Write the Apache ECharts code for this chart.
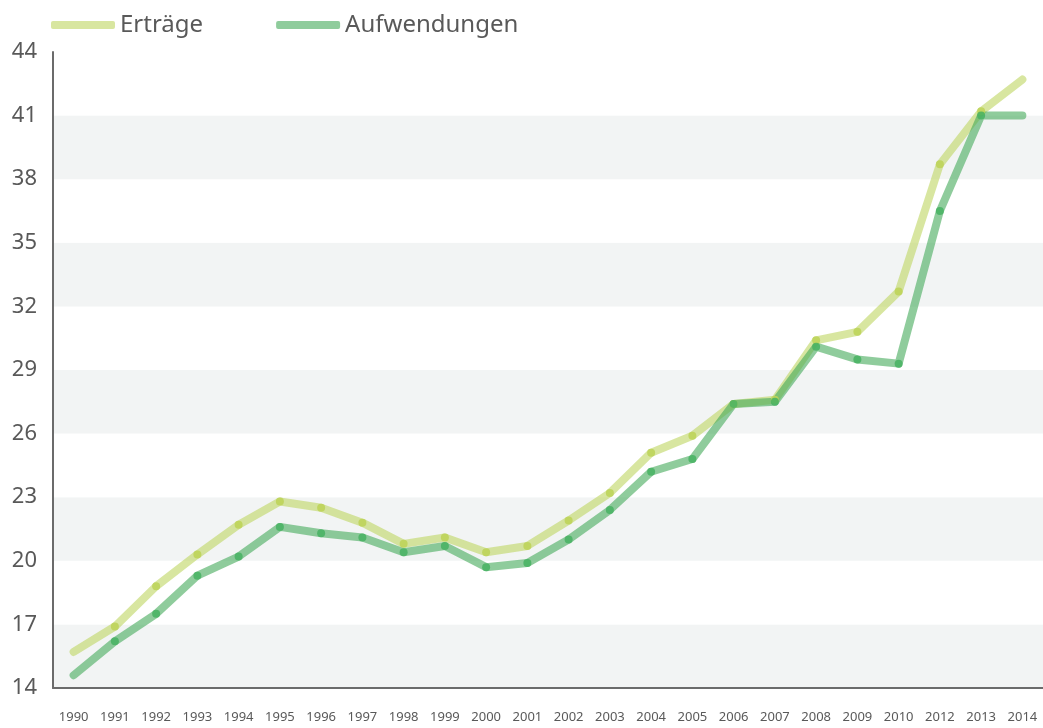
<!DOCTYPE html>
<html>
<head>
<meta charset="utf-8">
<script src="https://cdn.jsdelivr.net/npm/echarts@6/dist/echarts.min.js"></script>
<style>
  html, body { margin: 0; padding: 0; background: #fff; }
  #chart { width: 1043px; height: 728px; }
</style>
</head>
<body>
<div id="chart"></div>
<script>
const years = ["1990", "1991", "1992", "1993", "1994", "1995", "1996", "1997", "1998", "1999",
  "2000", "2001", "2002", "2003", "2004", "2005", "2006", "2007", "2008", "2009",
  "2010", "2012", "2013", "2014"];

const ertraege = [15.7, 16.9, 18.8, 20.3, 21.7, 22.8, 22.5, 21.8, 20.8, 21.1,
  20.4, 20.7, 21.9, 23.2, 25.1, 25.9, 27.4, 27.6, 30.4, 30.8,
  32.7, 38.7, 41.2, 42.7];

const aufwendungen = [14.6, 16.2, 17.5, 19.3, 20.2, 21.6, 21.3, 21.1, 20.4, 20.7,
  19.7, 19.9, 21.0, 22.4, 24.2, 24.8, 27.4, 27.5, 30.1, 29.5,
  29.3, 36.5, 41.0, 41.0];

const textColor = "#595959";
const font = "'Noto Sans', 'Open Sans', sans-serif";

// no dot on the first and last point
function withEnds(values) {
  return values.map((v, i) =>
    i === 0 || i === values.length - 1 ? { value: v, symbol: "none" } : v
  );
}

function lineSeries(name, data, lineColor, dotColor) {
  return {
    name: name,
    type: "line",
    data: withEnds(data),
    symbol: "circle",
    symbolSize: 8,
    showSymbol: true,
    itemStyle: { color: dotColor },
    lineStyle: { color: lineColor, width: 8, cap: "round", join: "round" },
    emphasis: { disabled: true },
    animation: false
  };
}

const chart = echarts.init(document.getElementById("chart"));
chart.setOption({
  textStyle: { fontFamily: font },
  legend: {
    left: 46,
    top: 8,
    itemWidth: 64,
    itemHeight: 8,
    itemGap: 73,
    icon: "roundRect",
    textStyle: { fontSize: 24, color: textColor, fontFamily: font },
    data: [
      { name: "Erträge", itemStyle: { color: "#d8e6a0" } },
      { name: "Aufwendungen", itemStyle: { color: "#8fcc9c" } }
    ]
  },
  grid: { left: 53, top: 52, right: -5, bottom: 40, containLabel: false },
  xAxis: {
    type: "category",
    data: years,
    boundaryGap: true,
    axisLine: { lineStyle: { color: "#6b6b6b", width: 2 } },
    axisTick: { show: false },
    axisLabel: { color: textColor, fontSize: 13, margin: 23, fontFamily: font, interval: 0 }
  },
  yAxis: {
    type: "value",
    min: 14,
    max: 44,
    interval: 3,
    axisLine: { show: true, lineStyle: { color: "#6b6b6b", width: 2 } },
    axisTick: { show: false },
    axisLabel: { color: textColor, fontSize: 22, margin: 16, fontFamily: font },
    splitLine: { show: false },
    splitArea: { show: true, areaStyle: { color: ["#f2f4f4", "#ffffff"] } }
  },
  series: [
    lineSeries("Erträge", ertraege, "rgba(190,213,97,0.6)", "rgba(190,212,90,0.9)"),
    lineSeries("Aufwendungen", aufwendungen, "rgba(68,170,90,0.6)", "rgba(70,178,98,0.85)")
  ]
});
</script>
</body>
</html>
